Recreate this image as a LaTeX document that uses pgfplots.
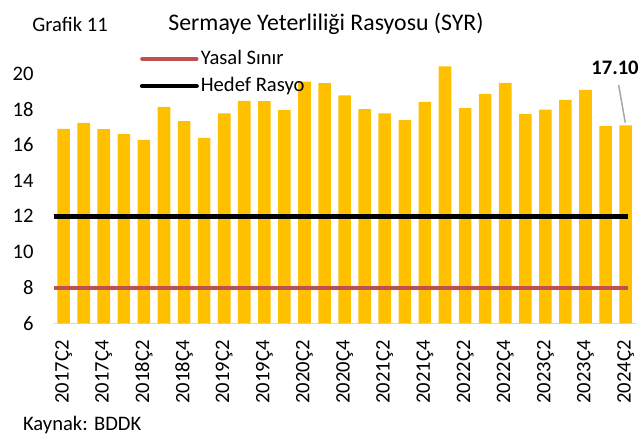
\documentclass[border=0pt]{standalone}
\usepackage{fontspec}
\setmainfont{Carlito}
\usepackage{pgfplots}
\pgfplotsset{compat=1.18}
\definecolor{bargold}{HTML}{FFC000}
\definecolor{yasal}{HTML}{C0504D}
\definecolor{axgray}{HTML}{D9D9D9}
\definecolor{leader}{HTML}{A6A6A6}
\begin{document}
\begin{tikzpicture}[font=\fontsize{10.3}{12.4}\selectfont]
\path[use as bounding box] (0,0) rectangle (321.5pt,224pt);
\begin{axis}[
  at={(26.8pt,62.35pt)}, anchor=south west,
  scale only axis, width=291.05pt, height=133.73pt,
  xmin=-0.5, xmax=28.5, ymin=6, ymax=21,
  axis x line*=bottom, axis y line*=left,
  x axis line style={draw=axgray, line width=0.75pt, -},
  y axis line style={draw=none},
  xtick={0,2,...,28},
  xticklabels={2017Ç2,2017Ç4,2018Ç2,2018Ç4,2019Ç2,2019Ç4,2020Ç2,2020Ç4,2021Ç2,2021Ç4,2022Ç2,2022Ç4,2023Ç2,2023Ç4,2024Ç2},
  ytick={6,8,...,20},
  xtick style={draw=none}, ytick style={draw=none},
  xticklabel style={rotate=90, anchor=east, xshift=-5pt},
  yticklabel style={xshift=-6.5pt},
  /pgf/number format/assume math mode=true,
  clip mode=individual,
  legend style={at={(0.1475,1.03)}, anchor=north west, draw=none, fill=none,
    inner sep=0pt, nodes={inner sep=1pt}, row sep=3pt},
  legend cell align=left,
  legend image code/.code={\draw[#1, line cap=round] (0pt,0pt) -- (27.2pt,0pt);},
]
\addplot[ybar, bar width=6.3pt, fill=bargold, draw=none, forget plot] coordinates {
(0,16.91) (1,17.24) (2,16.89) (3,16.61) (4,16.29) (5,18.14) (6,17.34) (7,16.40)
(8,17.77) (9,18.48) (10,18.46) (11,17.95) (12,19.56) (13,19.47) (14,18.78)
(15,18.01) (16,17.77) (17,17.39) (18,18.42) (19,20.41) (20,18.07) (21,18.87)
(22,19.49) (23,17.73) (24,17.99) (25,18.53) (26,19.09) (27,17.06) (28,17.10)};
\addplot[yasal, line width=2pt] coordinates {(-0.5,8) (28.1,8)};
\addlegendentry{Yasal Sınır}
\addplot[black, line width=2.3pt] coordinates {(-0.5,12) (28.1,12)};
\addlegendentry{Hedef Rasyo}
\draw[leader, line width=0.75pt] (axis cs:27.65,19.37) -- (axis cs:27.98,17.25);
\node[font=\fontsize{10.3}{12.4}\selectfont\bfseries, anchor=center] at (axis cs:27.47,20.35) {17.10};
\end{axis}
\node[anchor=base, font=\fontsize{11.9}{14}\selectfont] at (163pt,208.75pt) {Sermaye Yeterliliği Rasyosu (SYR)};
\node[anchor=base west, inner sep=0pt] at (16pt,208.25pt) {Grafik 11};
\node[anchor=base west, inner sep=0pt] at (11.35pt,8.65pt) {Kaynak: BDDK};
\end{tikzpicture}
\end{document}
